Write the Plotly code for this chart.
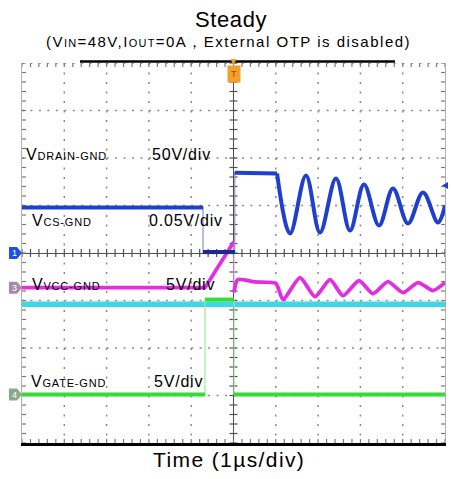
import plotly.graph_objects as go

# ---------------- waveform data (time in µs, values in volts) ----------------
# CH1  V_DRAIN-GND, 50 V/div, reference at screen centre
drain_scale, drain_ref = 50.0, 0.0
drain_t = [-5.0, -0.72, -0.72, 0.03, 0.03, 1.03]
drain_v = [48.0, 48.0, 1.0, 1.0, 84.6, 83.7]
# drain ringing after turn-off (peaks and valleys)
ring_t = [1.03, 1.336, 1.714, 2.045, 2.423, 2.754, 3.085, 3.44, 3.771, 4.125, 4.48, 4.835, 5.0]
ring_v = [83.7, 20.5, 81.6, 21.6, 78.4, 23.7, 72.1, 28.9, 67.9, 31.1, 63.7, 32.1, 50.0]

# CH2  V_CS-GND, 0.05 V/div
cs_scale, cs_ref = 0.05, -1.08
cs_t = [-5.0, 5.0]
cs_v = [0.0, 0.0]

# CH3  V_VCC-GND, 5 V/div (values relative to channel reference)
vcc_scale, vcc_ref = 5.0, -0.73
vcc_t = [-5.0, -0.674, -0.012, 0.01, 0.01]
vcc_v = [0.0, 0.0, 4.7, 4.7, -0.5]
# VCC ripple after turn-off
vcc_ring_t = [0.01, 0.10, 0.5, 1.0, 1.17, 1.572, 1.927, 2.281, 2.589, 2.967,
              3.298, 3.652, 4.007, 4.362, 4.716, 5.0]
vcc_ring_v = [-0.5, 0.85, 0.6, 0.45, -1.26, 1.05, -0.95, 0.84, -0.84, 0.74,
              -0.63, 0.63, -0.53, 0.53, -0.3, 0.53]

# CH4  V_GATE-GND, 5 V/div
gate_scale, gate_ref = 5.0, -2.98
gate_t = [-5.0, -0.674, -0.674, 0.012, 0.012, 5.0]
gate_v = [0.0, 0.0, 10.0, 10.0, 0.0, 0.0]

trigger_level_v = 71.0  # CH1 trigger level

# channel annotations: (main letter, subscript, volts/div text)
chan_labels = [
    ("V", "DRAIN-GND", "50V/div"),
    ("V", "CS-GND", "0.05V/div"),
    ("V", "VCC-GND", "5V/div"),
    ("V", "GATE-GND", "5V/div"),
]

# ---------------- page geometry ----------------
W, H = 451, 479
L, R, T, B = 22, 6, 63, 36
PW, PH = W - L - R, H - T - B
FONT = "Liberation Sans, Arial, sans-serif"
XH, YH = 5, 4                  # graticule half-widths in divisions (10 x 8)
SUB = 5                        # minor marks per division

BLUE = "#1f3fcf"
NAVY = "#1c2a8c"
MAGENTA = "#e22ee0"
CYAN = "#3cd8e6"
GREEN = "#34dc34"
GRID = "#8a8a8a"
AX = "#505050"


def to_div(vals, scale, ref):
    return [ref + v / scale for v in vals]


def split_edges(t, v):
    """Break the polyline at vertical steps so the fast edges can be drawn thin."""
    bt, bv = [t[0]], [v[0]]
    for i in range(1, len(t)):
        if t[i] == t[i - 1]:
            bt.append(None)
            bv.append(None)
        bt.append(t[i])
        bv.append(v[i])
    return bt, bv


def paper_x(px):
    return (px - L) / PW


def paper_y(py):
    return (H - B - py) / PH


fig = go.Figure()


def segments(pairs, color, width, dash=None):
    """One trace made of separate straight strokes ((x0, y0), (x1, y1))."""
    xs, ys = [], []
    for (x0, y0), (x1, y1) in pairs:
        xs += [x0, x1, None]
        ys += [y0, y1, None]
    fig.add_trace(go.Scatter(x=xs, y=ys, mode="lines", hoverinfo="skip", cliponaxis=False,
                             line=dict(color=color, width=width, dash=dash)))


# ---------------- graticule ----------------
px_per_x = PW / (2 * XH)
px_per_y = PH / (2 * YH)
segments([((i, YH), (i, -YH)) for i in range(-XH + 1, XH) if i != 0],
         GRID, 1.5, f"2px,{px_per_y / SUB - 2:.2f}px")
segments([((-XH, j), (XH, j)) for j in range(-YH + 1, YH + 1) if j != 0],
         GRID, 1.5, f"2px,{px_per_x / SUB - 2:.2f}px")

tx, ty = 4 / px_per_x, 4 / px_per_y
centre, edge = [], []
for k in range(-XH * SUB, XH * SUB + 1):
    x = k / SUB
    centre.append(((x, -ty), (x, ty)))
    edge.append(((x, YH), (x, YH - ty)))
    edge.append(((x, -YH), (x, -YH + ty)))
for k in range(-YH * SUB, YH * SUB + 1):
    y = k / SUB
    centre.append(((-tx, y), (tx, y)))
    edge.append(((-XH, y), (-XH + tx, y)))
    edge.append(((XH, y), (XH - tx, y)))
segments(edge, "#7a7a7a", 1.2)
segments(centre, AX, 1.2)


# ---------------- channel traces ----------------
def add_channel(t, v, scale, ref, color, edge_color, width):
    y = to_div(v, scale, ref)
    fig.add_trace(go.Scatter(x=t, y=y, mode="lines", hoverinfo="skip",
                             line=dict(color=edge_color, width=1.2)))
    bt, by = split_edges(t, y)
    fig.add_trace(go.Scatter(x=bt, y=by, mode="lines", hoverinfo="skip",
                             line=dict(color=color, width=width)))


def add_smooth(t, v, scale, ref, color, width, smoothing):
    fig.add_trace(go.Scatter(x=t, y=to_div(v, scale, ref), mode="lines", hoverinfo="skip",
                             line=dict(color=color, width=width, shape="spline",
                                       smoothing=smoothing)))


add_channel(cs_t, cs_v, cs_scale, cs_ref, CYAN, CYAN, 5.5)
add_channel(gate_t, gate_v, gate_scale, gate_ref, GREEN, "#9ee89e", 4)
add_channel(vcc_t, vcc_v, vcc_scale, vcc_ref, MAGENTA, "#eaa6ea", 3.8)
add_smooth(vcc_ring_t, vcc_ring_v, vcc_scale, vcc_ref, MAGENTA, 3.8, 0.6)
add_channel(drain_t, drain_v, drain_scale, drain_ref, BLUE, "#8e8ee0", 4)
# the conducting interval of the drain trace is drawn in a deeper shade
fig.add_trace(go.Scatter(x=drain_t[2:4], y=to_div(drain_v[2:4], drain_scale, drain_ref),
                         mode="lines", hoverinfo="skip", line=dict(color=NAVY, width=4)))
add_smooth(ring_t, ring_v, drain_scale, drain_ref, BLUE, 4, 1.0)

fig.update_layout(
    width=W, height=H, margin=dict(l=L, r=R, t=T, b=B),
    paper_bgcolor="white", plot_bgcolor="white", showlegend=False,
    font=dict(family=FONT, color="black"),
    xaxis=dict(range=[-XH, XH], showgrid=False, zeroline=True,
               zerolinecolor=AX, zerolinewidth=1.2, showline=True, linecolor="black",
               linewidth=3, showticklabels=False),
    yaxis=dict(range=[-YH, YH], showgrid=False, zeroline=True,
               zerolinecolor=AX, zerolinewidth=1.2, showline=True, linecolor="#b0b0b0",
               linewidth=1.2, mirror=True, showticklabels=False),
)

shapes = [
    # record-length bar along the top
    dict(type="line", xref="paper", yref="paper", x0=paper_x(80), x1=paper_x(395),
         y0=1.004, y1=1.004, line=dict(color="black", width=2.5)),
    # trigger level arrow on the right edge
    dict(type="path", xref="paper", yref="y", xsizemode="pixel", ysizemode="pixel",
         xanchor=1, yanchor=drain_ref + trigger_level_v / drain_scale,
         path="M-3,0 L3,-3.5 L3,3.5 Z", fillcolor=BLUE, line=dict(width=0)),
    # trigger position marker at the top
    dict(type="path", xref="x", yref="paper", xsizemode="pixel", ysizemode="pixel",
         xanchor=0, yanchor=1, path="M-3,4 L3,4 L0,-2 Z", fillcolor="#f2a02a",
         line=dict(width=0)),
]

annotations = []

# channel reference markers on the left edge
for num, ref, col in [("1", drain_ref, "#2050e8"), ("3", vcc_ref, "#a58aa5"),
                      ("4", gate_ref, "#8aaa8a")]:
    shapes.append(dict(type="path", xref="paper", yref="y", xsizemode="pixel",
                       ysizemode="pixel", xanchor=0, yanchor=ref,
                       path="M-13,-6 L-5,-6 L0,0 L-5,6 L-13,6 Z",
                       fillcolor=col, line=dict(width=0)))
    annotations.append(dict(text=num, xref="paper", yref="y", x=0, y=ref, xshift=-8,
                            showarrow=False, font=dict(size=9, color="white", family=FONT),
                            xanchor="center", yanchor="middle"))

annotations.append(dict(text="T", xref="x", yref="paper", x=0, y=paper_y(74),
                        showarrow=False, bgcolor="#f2a02a", borderpad=3,
                        font=dict(size=9, color="#8a5600", family=FONT),
                        xanchor="center", yanchor="middle"))


def span(txt, size, ls):
    return f'<span style="font-size:{size}px;letter-spacing:{ls}px">{txt}</span>'


def text_at(html, px, baseline, size, xanchor="left"):
    annotations.append(dict(text=html, xref="paper", yref="paper", x=paper_x(px),
                            y=paper_y(baseline - 0.3465 * size), showarrow=False,
                            xanchor=xanchor, yanchor="middle", borderpad=0, borderwidth=0,
                            font=dict(size=size, family=FONT, color="black")))


label_pos = [(26, 160, 152), (32, 226, 149), (32, 290, 166), (31, 387, 154)]
for (big, small, scale_txt), (lx, base, sx) in zip(chan_labels, label_pos):
    text_at(span(big, 16, 0.8) + span(small, 11, 0.8), lx, base, 16)
    text_at(span(scale_txt, 16, 0.8), sx, base, 16)

text_at(span("Steady", 22, 0.6), 231, 27, 22, xanchor="center")
text_at(span("(V", 15, 1.5) + span("IN", 11, 1.2) + span("=48V,I", 15, 1.5)
        + span("OUT", 11, 1.2) + span("=0A，External OTP is disabled)", 15, 1.5),
        228, 46.5, 15, xanchor="center")
text_at(span("Time (1µs/div)", 21, 1.4), 228.5, 467, 21, xanchor="center")

fig.update_layout(shapes=shapes, annotations=annotations)
fig.write_html("out.html")
